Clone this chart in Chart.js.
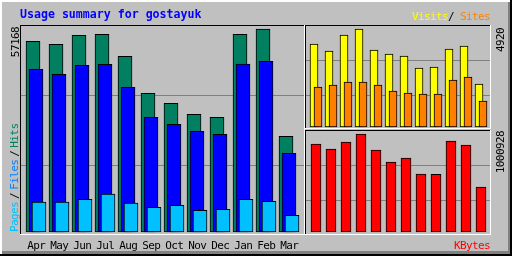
<!DOCTYPE html>
<html>
<head>
<meta charset="utf-8">
<script src="https://cdn.jsdelivr.net/npm/chart.js@4.4.0/dist/chart.umd.min.js"></script>
<style>
  html, body { margin: 0; padding: 0; background: #c0c0c0; }
  #root { position: relative; width: 512px; height: 256px; overflow: hidden; background: #c0c0c0;
          font-family: "DejaVu Sans Mono", monospace; }
  .ln { position: absolute; }
  .t { position: absolute; white-space: nowrap; font-size: 11px; line-height: 11px; letter-spacing: -0.6px; }
  canvas { position: absolute; }
</style>
</head>
<body>
<div id="root"></div>
<script>
/* monthly usage, Apr..Mar */
const months = ['Apr','May','Jun','Jul','Aug','Sep','Oct','Nov','Dec','Jan','Feb','Mar'];
const hits   = [53705, 52860, 55394, 55676, 49480, 39060, 36244, 33147, 32302, 55676, 57168, 26951];
const files  = [45819, 44412, 46946, 47228, 40750, 32302, 30331, 28359, 27514, 47312, 48073, 22164];
const pages  = [8449, 8449, 9209, 10702, 8167, 6956, 7519, 6111, 6393, 9209, 8646, 4703];
const visits = [4167, 3815, 4619, 4920, 3866, 3665, 3564, 2962, 3012, 3916, 4066, 2159];
const sites  = [2008, 2108, 2259, 2259, 2108, 1807, 1707, 1657, 1657, 2360, 2510, 1305];
const kbytes = [898790, 847720, 919220, 1000928, 837510, 714950, 755800, 592390, 590000, 929430, 888580, 459610];

/* scale maxima shown on the side labels */
const hitsMax = 57168;
const visitsMax = 4920;
const kbytesMax = 1000928;

const root = document.getElementById('root');
const ASC = 0.846; // baseline offset of DejaVu Sans Mono at line-height 1em

function ln(x, y, w, h, color) {
  const d = document.createElement('div');
  d.className = 'ln';
  d.style.cssText = `left:${x}px;top:${y}px;width:${w}px;height:${h}px;background:${color}`;
  root.appendChild(d);
}

function txt(html, x, base, color, extra) {
  const d = document.createElement('div');
  d.className = 't';
  d.innerHTML = html;
  d.style.left = x + 'px';
  d.style.top = (base - ASC * 11) + 'px';
  d.style.color = color;
  if (extra) Object.assign(d.style, extra);
  root.appendChild(d);
  return d;
}

/* rotated text, reading bottom to top. x = left of letter tops; y = bottom start or top end */
function upTxt(html, x, y, alignEnd) {
  const d = document.createElement('div');
  d.className = 't';
  d.innerHTML = html;
  const w = 140;
  d.style.width = w + 'px';
  d.style.left = x + 'px';
  d.style.transformOrigin = '0 0';
  d.style.transform = 'rotate(-90deg)';
  if (alignEnd) { d.style.textAlign = 'right'; d.style.top = (y + w) + 'px'; }
  else d.style.top = y + 'px';
  root.appendChild(d);
  return d;
}

/* ── outer bevel ── */
ln(0, 0, 512, 2, '#ffffff');
ln(0, 0, 2, 256, '#ffffff');
ln(2, 251, 510, 3, '#808080');
ln(508, 2, 3, 252, '#808080');
ln(0, 254, 512, 2, '#000000');
ln(510, 0, 2, 256, '#000000');

/* ── panel backgrounds: grid lines ── */
ln(21, 95, 283, 1, '#808080');
ln(21, 165, 283, 1, '#808080');
ln(306, 60, 184, 1, '#808080');
ln(306, 95, 184, 1, '#808080');
ln(306, 165, 184, 1, '#808080');
ln(306, 200, 184, 1, '#808080');

/* ── charts ── */
const shiftPlugin = {
  id: 'shift',
  beforeDatasetDraw(chart, args) {
    const dx = chart.data.datasets[args.index].shift || 0;
    chart.ctx.save();
    chart.ctx.translate(dx, 0);
  },
  afterDatasetDraw(chart) { chart.ctx.restore(); }
};

function makeChart(left, top, w, h, pad, datasets, yMax) {
  const c = document.createElement('canvas');
  c.width = w; c.height = h;
  c.style.left = left + 'px'; c.style.top = top + 'px';
  root.appendChild(c);
  return new Chart(c, {
    type: 'bar',
    data: { labels: months, datasets },
    options: {
      responsive: false, animation: false, devicePixelRatio: 1,
      layout: { padding: pad },
      plugins: { legend: { display: false }, tooltip: { enabled: false } },
      scales: {
        x: { display: false },
        y: { display: false, min: 0, max: yMax }
      }
    },
    plugins: [shiftPlugin]
  });
}

function bar(data, color, thick, shift, order) {
  return { data, backgroundColor: color, borderColor: '#000000', borderWidth: 1,
           borderSkipped: false, barThickness: thick, grouped: false, shift, order, clip: false };
}

const mainChart = makeChart(20, 25, 285, 210, { left: 4.5, right: 4.5, top: 4, bottom: 3 }, [
  bar(pages, '#00c0ff', 14, 3, 1),
  bar(files, '#0000ff', 14, 0, 2),
  bar(hits,  '#008060', 14, -3, 3)
], hitsMax);

makeChart(305, 25, 186, 105, { left: 3.5, right: 2.5, top: 4, bottom: 3 }, [
  bar(sites,  '#ff8000', 8, 2, 1),
  bar(visits, '#ffff00', 8, -2, 2)
], visitsMax);

makeChart(305, 130, 186, 105, { left: 3.5, right: 2.5, top: 4, bottom: 3 }, [
  bar(kbytes, '#ff0000', 10, 0, 1)
], kbytesMax);

/* ── panel frames ── */
ln(20, 25, 285, 1, '#000000');
ln(20, 25, 1, 210, '#000000');
ln(20, 234, 285, 1, '#ffffff');
ln(304, 25, 1, 210, '#ffffff');

ln(305, 25, 186, 1, '#000000');
ln(305, 25, 1, 104, '#000000');
ln(305, 128, 186, 1, '#ffffff');
ln(490, 25, 1, 104, '#ffffff');

ln(305, 130, 186, 1, '#000000');
ln(305, 130, 1, 105, '#000000');
ln(305, 234, 186, 1, '#ffffff');
ln(490, 130, 1, 105, '#ffffff');

/* ── texts ── */
const title = txt('Usage summary for gostayuk', 20, 18.7, '#0000ff');
title.style.fontWeight = 'bold';
title.style.fontSize = '11.6px';
title.style.lineHeight = '11.6px';
title.style.letterSpacing = '0px';
title.style.top = (18.7 - ASC * 11.6) + 'px';

txt('Visits', 412, 20.5, '#ffff00');
txt('/', 448, 20.5, '#000000');
txt('Sites', 460, 20.5, '#ff8000');

upTxt(String(hitsMax), 10, 27, true).style.color = '#000000';
upTxt(String(visitsMax), 495, 28, true).style.color = '#000000';
upTxt(String(kbytesMax), 495, 131, true).style.color = '#000000';
upTxt('<span style="color:#00c0ff">Pages</span><span style="color:#000;margin:0 3px">/</span>' +
      '<span style="color:#0080ff">Files</span><span style="color:#000;margin:0 3px">/</span>' +
      '<span style="color:#008060">Hits</span>', 9, 232, false);

/* month labels under the main chart, from its own x scale */
months.forEach((m, i) => {
  const cx = 20 + mainChart.scales.x.getPixelForValue(i);
  const d = txt(m, 0, 249, '#000000');
  d.style.left = (cx - d.offsetWidth / 2 + 0.3) + 'px';
});

txt('KBytes', 454, 249, '#ff0000');
</script>
</body>
</html>
